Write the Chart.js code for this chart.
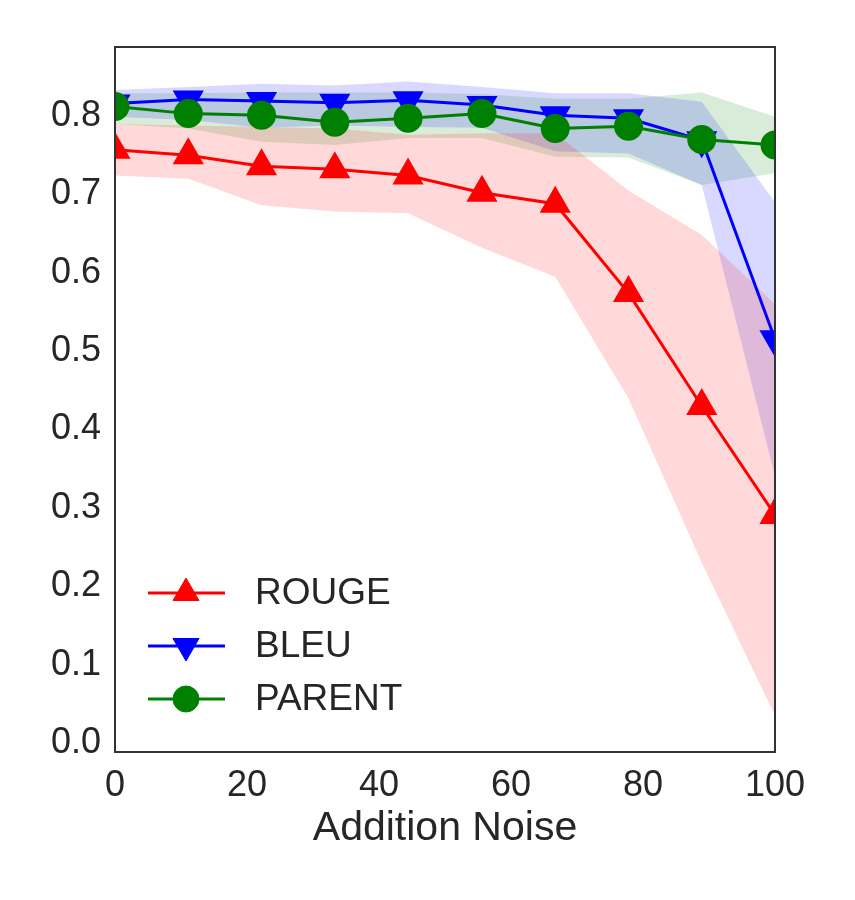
<!DOCTYPE html>
<html>
<head>
<meta charset="utf-8">
<script src="https://cdn.jsdelivr.net/npm/chart.js@4.4.1/dist/chart.umd.min.js"></script>
<style>
  body{margin:0;background:#fff;}
  #wrap{width:855px;height:900px;}
</style>
</head>
<body>
<div id="wrap"><canvas id="noisechart" width="855" height="900"></canvas></div>
<script>
// noise levels on x axis
const noise=[0,11.1,22.2,33.3,44.4,55.6,66.7,77.8,88.9,100];
// mean scores
const rouge=[0.757,0.750,0.736,0.732,0.724,0.702,0.688,0.574,0.430,0.291];
const bleu=[0.816,0.821,0.819,0.817,0.820,0.814,0.801,0.797,0.769,0.515];
const parent=[0.812,0.803,0.801,0.792,0.797,0.803,0.784,0.787,0.770,0.763];
// shaded spread (lower / upper)
const rougeLow=[0.724,0.720,0.686,0.678,0.676,0.632,0.595,0.440,0.230,0.035];
const rougeHigh=[0.790,0.788,0.786,0.784,0.776,0.778,0.778,0.705,0.648,0.560];
const bleuLow=[0.799,0.795,0.785,0.788,0.786,0.785,0.755,0.752,0.712,0.340];
const bleuHigh=[0.833,0.837,0.841,0.839,0.844,0.837,0.829,0.829,0.818,0.690];
const parentLow=[0.790,0.784,0.767,0.763,0.772,0.772,0.748,0.747,0.712,0.727];
const parentHigh=[0.829,0.829,0.830,0.830,0.830,0.828,0.822,0.822,0.830,0.799];
// tick labels
const xTicks=[0,20,40,60,80,100];
const yTicks=[0,0.1,0.2,0.3,0.4,0.5,0.6,0.7,0.8];
const seriesNames=['ROUGE','BLEU','PARENT'];

const textColor='#262626';
const fontName='"Liberation Sans", Arial, sans-serif';

function pts(arr){
    return arr.map((v,i)=>({x:noise[i],y:v}));
}

function band(low,high,color){
    return [
        {data:pts(low),borderWidth:0,pointRadius:0,fill:false,order:10},
        {data:pts(high),borderWidth:0,pointRadius:0,fill:'-1',backgroundColor:color,order:10}
    ];
}

// draws frame round the plot area
const framePlugin={
    id:'frame',
    afterDraw(chart){
        const {ctx,chartArea:a}=chart;
        ctx.save();
        ctx.strokeStyle='#333333';
        ctx.lineWidth=2;
        ctx.strokeRect(a.left,a.top,a.right-a.left,a.bottom-a.top);
        ctx.restore();
    }
};

// legend inside the plot, lower left
const legendPlugin={
    id:'innerLegend',
    afterDraw(chart){
        const ctx=chart.ctx;
        const rows=[593,646,699];
        ctx.save();
        seriesNames.forEach((name,i)=>{
            const d=chart.data.datasets.find(ds=>ds.label===name);
            const y=rows[i];
            ctx.strokeStyle=d.borderColor;
            ctx.lineWidth=3;
            ctx.beginPath();
            ctx.moveTo(148,y);
            ctx.lineTo(225,y);
            ctx.stroke();
            ctx.fillStyle=d.pointBackgroundColor;
            ctx.strokeStyle=d.pointBackgroundColor;
            ctx.lineWidth=1;
            Chart.helpers.drawPoint(ctx,{pointStyle:d.pointStyle,rotation:d.pointRotation||0,radius:d.pointRadius,borderWidth:1},186,y);
            ctx.fillStyle=textColor;
            ctx.font='37px '+fontName;
            ctx.textBaseline='middle';
            ctx.fillText(name,255,y+1);
        });
        ctx.restore();
    }
};

const config={
    type:'line',
    data:{
        datasets:[
            {label:seriesNames[2],data:pts(parent),borderColor:'#008000',pointBackgroundColor:'#008000',pointBorderColor:'#008000',
             pointStyle:'circle',pointRadius:13,borderWidth:3,fill:false,order:1},
            {label:seriesNames[1],data:pts(bleu),borderColor:'#0000ff',pointBackgroundColor:'#0000ff',pointBorderColor:'#0000ff',
             pointStyle:'triangle',pointRotation:180,pointRadius:15,borderWidth:3,fill:false,order:2},
            {label:seriesNames[0],data:pts(rouge),borderColor:'#ff0000',pointBackgroundColor:'#ff0000',pointBorderColor:'#ff0000',
             pointStyle:'triangle',pointRadius:15,borderWidth:3,fill:false,order:3},
            ...band(rougeLow,rougeHigh,'rgba(255,0,0,0.15)'),
            ...band(bleuLow,bleuHigh,'rgba(0,0,255,0.15)'),
            ...band(parentLow,parentHigh,'rgba(0,128,0,0.15)')
        ]
    },
    options:{
        responsive:false,
        animation:false,
        layout:{padding:{top:47,right:80,left:0,bottom:43}},
        plugins:{legend:{display:false},tooltip:{enabled:false},
            filler:{propagate:false}},
        scales:{
            x:{
                type:'linear',min:0,max:100,
                grid:{display:false,drawTicks:false},
                border:{display:false},
                afterBuildTicks:s=>{s.ticks=xTicks.map(v=>({value:v}));},
                afterFit:s=>{s.height=105;},
                ticks:{color:textColor,font:{size:36,family:fontName},padding:12,maxRotation:0},
                title:{display:true,text:'Addition Noise',color:textColor,font:{size:41,family:fontName},padding:{top:0,bottom:4}}
            },
            y:{
                type:'linear',min:-0.0115,max:0.888,
                grid:{display:false,drawTicks:false},
                border:{display:false},
                afterBuildTicks:s=>{s.ticks=yTicks.map(v=>({value:v}));},
                afterFit:s=>{s.width=115;},
                ticks:{color:textColor,font:{size:36,family:fontName},padding:14,callback:v=>v.toFixed(1)}
            }
        }
    },
    plugins:[framePlugin,legendPlugin]
};

new Chart(document.getElementById('noisechart').getContext('2d'),config);
</script>
</body>
</html>
